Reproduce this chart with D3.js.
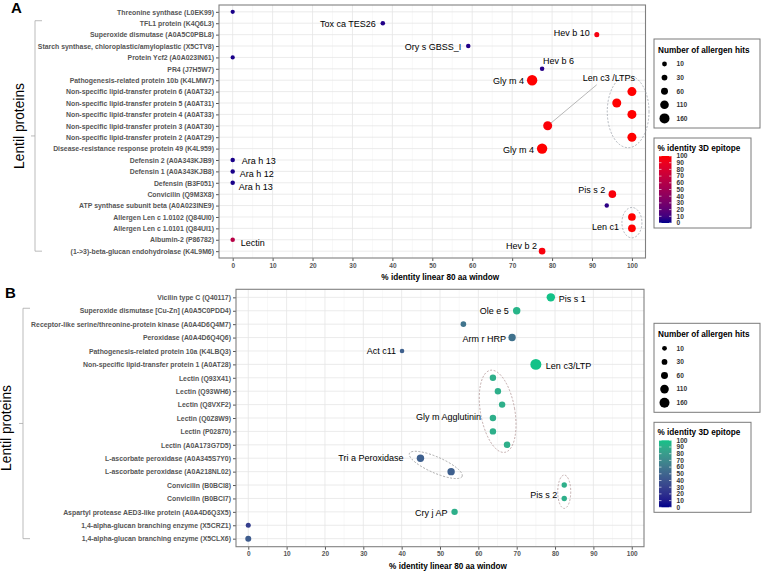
<!DOCTYPE html>
<html>
<head>
<meta charset="utf-8">
<script src="https://cdn.jsdelivr.net/npm/d3@7"></script>
<style>
  body { margin: 0; background: #fff; }
  text { font-family: "Liberation Sans", Arial, sans-serif; }
</style>
</head>
<body>
<svg id="chart" width="765" height="574"></svg>
<script>
// ---- panel A data (top row first) ----
const proteinsA = [
    "Threonine synthase (L0EK99)",
    "TFL1 protein (K4Q6L3)",
    "Superoxide dismutase (A0A5C0PBL8)",
    "Starch synthase, chloroplastic/amyloplastic (X5CTV8)",
    "Protein Ycf2 (A0A023IN61)",
    "PR4 (J7H5W7)",
    "Pathogenesis-related protein 10b (K4LMW7)",
    "Non-specific lipid-transfer protein 6 (A0AT32)",
    "Non-specific lipid-transfer protein 5 (A0AT31)",
    "Non-specific lipid-transfer protein 4 (A0AT33)",
    "Non-specific lipid-transfer protein 3 (A0AT30)",
    "Non-specific lipid-transfer protein 2 (A0AT29)",
    "Disease-resistance response protein 49 (K4L959)",
    "Defensin 2 (A0A343KJB9)",
    "Defensin 1 (A0A343KJB8)",
    "Defensin (B3F051)",
    "Convicilin (Q9M3X8)",
    "ATP synthase subunit beta (A0A023INE9)",
    "Allergen Len c 1.0102 (Q84UI0)",
    "Allergen Len c 1.0101 (Q84UI1)",
    "Albumin-2 (P86782)",
    "(1->3)-beta-glucan endohydrolase (K4L9M6)"
];
const identityA = [0, 37.6, 91.2, 59.0, 0, 77.5, 75.0, 100, 96.2, 100, 78.9, 100, 77.5, 0, 0, 0, 95.1, 93.7, 100, 100, 0, 77.5];
const epitopeA  = [2, 3, 96, 3, 2, 4, 100, 100, 100, 100, 98, 100, 100, 2, 2, 2, 97, 5, 100, 100, 62, 97];
const hitsA     = [0, 5, 14, 5, 0, 5, 175, 123, 123, 123, 123, 123, 175, 4, 4, 4, 78, 3, 80, 80, 5, 50];
const allergenA = ["", "Tox ca TES26", "Hev b 10", "Ory s GBSS_I", "", "Hev b 6", "Gly m 4", "", "", "",
    "Len c3 /LTPs", "", "Gly m 4", "Ara h 13", "Ara h 12", "Ara h 13", "Pis s 2", "", "", "Len c1", "Lectin", "Hev b 2"];

// ---- panel B data ----
const proteinsB = [
    "Vicilin type C (Q40117)",
    "Superoxide dismutase [Cu-Zn] (A0A5C0PDD4)",
    "Receptor-like serine/threonine-protein kinase (A0A4D6Q4M7)",
    "Peroxidase (A0A4D6Q4Q6)",
    "Pathogenesis-related protein 10a (K4LBQ3)",
    "Non-specific lipid-transfer protein 1 (A0AT28)",
    "Lectin (Q93X41)",
    "Lectin (Q93WH6)",
    "Lectin (Q8VXF2)",
    "Lectin (Q0Z8W9)",
    "Lectin (P02870)",
    "Lectin (A0A173G7D5)",
    "L-ascorbate peroxidase (A0A345S7Y0)",
    "L-ascorbate peroxidase (A0A218NL02)",
    "Convicilin (B0BCI8)",
    "Convicilin (B0BCI7)",
    "Aspartyl protease AED3-like protein (A0A4D6Q3X5)",
    "1,4-alpha-glucan branching enzyme (X5CRZ1)",
    "1,4-alpha-glucan branching enzyme (X5CLX6)"
];
const identityB = [78.9, 70.0, 56.1, 68.8, 40.1, 75.0, 63.8, 65.1, 66.2, 63.8, 63.8, 67.5, 44.9, 52.9, 82.4, 82.4, 53.8, 0, 0];
const epitopeB  = [100, 93, 58, 57, 48, 100, 90, 90, 90, 90, 90, 90, 47, 47, 90, 90, 90, 28, 45];
const hitsB     = [103, 72, 26, 72, 6, 200, 45, 45, 45, 45, 45, 50, 72, 72, 22, 22, 45, 14, 35];
const allergenB = ["Pis s 1", "Ole e 5", "", "Arm r HRP", "Act c11", "Len c3/LTP", "", "", "", "Gly m Agglutinin", "", "",
    "Tri a Peroxidase", "", "", "Pis s 2", "Cry j AP", "", ""];

const xTicks = [0, 10, 20, 30, 40, 50, 60, 70, 80, 90, 100];
const hitsLegend = [10, 30, 60, 110, 160];
const epitopeLegend = [0, 10, 20, 30, 40, 50, 60, 70, 80, 90, 100];

const svg = d3.select("#chart");

// point area grows linearly with hits
const area = d3.scaleLinear().domain([0, 160]).range([4.5, 25]);
const radius = v => Math.sqrt(Math.max(area(v), 3));

function drawPanel(p) {
    const g = svg.append("g");
    const x = d3.scaleLinear().domain(p.xDomain).range([p.left, p.right]);
    const y = d3.scalePoint().domain(p.proteins).range([p.top, p.bottom]).padding(0.6);
    const colour = d3.scaleLinear().domain([0, 100]).range([p.low, p.high]).interpolate(d3.interpolateLab);

    // grid
    const minor = d3.range(5, 100, 10);
    g.selectAll(".minor").data(minor).join("line")
        .attr("x1", d => x(d)).attr("x2", d => x(d))
        .attr("y1", p.top).attr("y2", p.bottom)
        .attr("stroke", "#f3f3f3").attr("stroke-width", 0.6);
    g.selectAll(".majorx").data(xTicks).join("line")
        .attr("x1", d => x(d)).attr("x2", d => x(d))
        .attr("y1", p.top).attr("y2", p.bottom)
        .attr("stroke", "#e6e6e6").attr("stroke-width", 0.8);
    g.selectAll(".majory").data(p.proteins).join("line")
        .attr("x1", p.left).attr("x2", p.right)
        .attr("y1", d => y(d)).attr("y2", d => y(d))
        .attr("stroke", "#e6e6e6").attr("stroke-width", 0.8);

    // axes
    const xa = g.append("g").attr("transform", `translate(0,${p.bottom})`)
        .call(d3.axisBottom(x).tickValues(xTicks).tickSize(3).tickPadding(2));
    const ya = g.append("g").attr("transform", `translate(${p.left},0)`)
        .call(d3.axisLeft(y).tickSize(3).tickPadding(2));
    [xa, ya].forEach(a => {
        a.select(".domain").remove();
        a.selectAll(".tick line").attr("stroke", "#555");
        a.selectAll(".tick text").attr("fill", "#555").attr("font-weight", "bold")
            .style("font-family", '"Liberation Sans", Arial, sans-serif');
    });
    xa.selectAll(".tick text").attr("font-size", 6.5);
    ya.selectAll(".tick text").attr("font-size", 6.9);

    g.append("rect").attr("x", p.left).attr("y", p.top)
        .attr("width", p.right - p.left).attr("height", p.bottom - p.top)
        .attr("fill", "none").attr("stroke", "#808080").attr("stroke-width", 1.1);

    g.append("text").attr("x", (p.left + p.right) / 2 + 8).attr("y", p.bottom + 22)
        .attr("text-anchor", "middle").attr("font-size", 8.2).attr("font-weight", "bold")
        .text("% identity linear 80 aa window");

    // rows as records
    const rows = p.proteins.map((name, i) => ({
        name, i, px: x(p.identity[i]), py: y(name),
        r: radius(p.hits[i]), c: colour(p.epitope[i]), lab: p.allergen[i]
    }));

    // dashed ellipses round grouped points
    p.ellipses.forEach(e => {
        const pts = e.rows.map(i => rows[i]);
        const cx = d3.mean(pts, d => d.px), cy = d3.mean(pts, d => d.py);
        const a = e.angle * Math.PI / 180;
        const u = pts.map(d => Math.abs((d.px - cx) * Math.cos(a) + (d.py - cy) * Math.sin(a)));
        const v = pts.map(d => Math.abs(-(d.px - cx) * Math.sin(a) + (d.py - cy) * Math.cos(a)));
        g.append("ellipse")
            .attr("transform", `translate(${cx},${cy}) rotate(${e.angle})`)
            .attr("rx", d3.max(u) + e.padX).attr("ry", d3.max(v) + e.padY)
            .attr("fill", "none").attr("stroke", e.stroke)
            .attr("stroke-width", 0.8).attr("stroke-dasharray", "2,1.6");
    });

    // leader lines
    p.leaders.forEach(l => {
        const d = rows[l.row];
        g.append("line").attr("x1", d.px).attr("y1", d.py)
            .attr("x2", d.px + l.dx).attr("y2", d.py + l.dy)
            .attr("stroke", "#9a9a9a").attr("stroke-width", 0.7);
    });

    g.selectAll("circle.pt").data(rows).join("circle")
        .attr("class", "pt")
        .attr("cx", d => d.px).attr("cy", d => d.py).attr("r", d => d.r)
        .attr("fill", d => d.c);

    // allergen labels
    rows.filter(d => d.lab).forEach(d => {
        const o = p.labelOffsets[d.i];
        g.append("text").attr("x", d.px + o[0]).attr("y", d.py + o[1])
            .attr("dy", "0.35em").attr("text-anchor", o[2])
            .attr("font-size", 9).attr("fill", "#000").text(d.lab);
    });

    // bracket and group title
    const bTop = y(p.proteins[1]) - 2.5, bBot = y(p.proteins[p.proteins.length - 1]);
    const bMid = (bTop + bBot) / 2;
    g.append("path")
        .attr("d", `M${p.bracketX + 7},${bTop}H${p.bracketX}V${bBot}H${p.bracketX + 7}M${p.bracketX},${bMid}H${p.bracketX - 4}`)
        .attr("fill", "none").attr("stroke", "#aaa").attr("stroke-width", 0.8);
    g.append("text")
        .attr("transform", `translate(${p.groupX},${bMid + p.groupDy}) rotate(-90)`)
        .attr("text-anchor", "middle").attr("font-size", 13.8).attr("fill", "#000")
        .text("Lentil proteins");

    g.append("text").attr("x", p.tagX).attr("y", p.tagY)
        .attr("font-size", 15).attr("font-weight", "bold").text(p.tag);

    // size legend
    const lx = 654, ly = p.top + 34;
    const sl = g.append("g").attr("transform", `translate(${lx},${ly})`);
    sl.append("rect").attr("width", 106).attr("height", 89)
        .attr("fill", "#fff").attr("stroke", "#7a7a7a").attr("stroke-width", 1);
    sl.append("text").attr("x", 4).attr("y", 13.5).attr("font-size", 8.2).attr("font-weight", "bold")
        .text("Number of allergen hits");
    hitsLegend.forEach((h, k) => {
        const yy = 25 + k * 13.6;
        sl.append("circle").attr("cx", 10.5).attr("cy", yy).attr("r", radius(h)).attr("fill", "#000");
        sl.append("text").attr("x", 22.5).attr("y", yy).attr("dy", "0.35em")
            .attr("font-size", 6.6).attr("font-weight", "bold").attr("fill", "#333").text(h);
    });

    // colour legend
    const cy0 = p.top + 133;
    const cl = g.append("g").attr("transform", `translate(${lx},${cy0})`);
    cl.append("rect").attr("width", 97).attr("height", 90)
        .attr("fill", "#fff").attr("stroke", "#7a7a7a").attr("stroke-width", 1);
    cl.append("text").attr("x", 3.5).attr("y", 12.5).attr("font-size", 8.2).attr("font-weight", "bold")
        .text("% identity 3D epitope");
    const gid = "grad" + p.tag;
    const grad = svg.append("defs").append("linearGradient").attr("id", gid)
        .attr("x1", 0).attr("y1", 1).attr("x2", 0).attr("y2", 0);
    epitopeLegend.forEach(v => grad.append("stop").attr("offset", v / 100).attr("stop-color", colour(v)));
    const barY = d3.scaleLinear().domain([0, 100]).range([85, 18]);
    cl.append("rect").attr("x", 5).attr("y", barY(100)).attr("width", 12.5).attr("height", barY(0) - barY(100))
        .attr("fill", `url(#${gid})`);
    epitopeLegend.forEach(v => {
        cl.append("line").attr("x1", 5).attr("x2", 7.5).attr("y1", barY(v)).attr("y2", barY(v))
            .attr("stroke", "#fff").attr("stroke-width", 0.6);
        cl.append("line").attr("x1", 15).attr("x2", 17.5).attr("y1", barY(v)).attr("y2", barY(v))
            .attr("stroke", "#fff").attr("stroke-width", 0.6);
        cl.append("text").attr("x", 22.5).attr("y", barY(v)).attr("dy", "0.35em")
            .attr("font-size", 6.6).attr("font-weight", "bold").attr("fill", "#333").text(v);
    });
}

drawPanel({
    tag: "A", tagX: 11, tagY: 13,
    proteins: proteinsA, identity: identityA, epitope: epitopeA, hits: hitsA, allergen: allergenA,
    xDomain: [-3.43, 103.4], left: 219, right: 645.5, top: 5, bottom: 258,
    low: "#00008B", high: "#FF0000",
    bracketX: 35, groupX: 24, groupDy: -10,
    labelOffsets: {
        1: [-7, 1, "end"], 2: [-7, -2, "end"], 3: [-7, 1, "end"], 5: [1, -8, "start"],
        6: [-8, 1, "end"], 10: [35, -48, "start"], 12: [-8, 1, "end"], 13: [9, 1, "start"],
        14: [7, 2, "start"], 15: [6, 4, "start"], 16: [-7, -4, "end"], 19: [-13, -2, "end"],
        20: [8, 3, "start"], 21: [-5, -5, "end"]
    },
    leaders: [{ row: 10, dx: 49, dy: -41 }],
    ellipses: [
        { rows: [7, 8, 9, 11], angle: 0, padX: 9.5, padY: 10.5, stroke: "#a0a4ad" },
        { rows: [18, 19], angle: 0, padX: 10, padY: 9.5, stroke: "#a0a4ad" }
    ]
});

drawPanel({
    tag: "B", tagX: 5, tagY: 298,
    proteins: proteinsB, identity: identityB, epitope: epitopeB, hits: hitsB, allergen: allergenB,
    xDomain: [-3.2, 103.2], left: 236, right: 644, top: 289.3, bottom: 546.7,
    low: "#00008B", high: "#14C288",
    bracketX: 23, groupX: 11, groupDy: 4.5,
    labelOffsets: {
        0: [8, 2, "start"], 1: [-8, 0, "end"], 3: [-6, 1, "end"], 4: [-6, 0, "end"],
        5: [10, 1, "start"], 9: [-12, -1, "end"], 12: [-17, -0.5, "end"], 15: [-7, -4, "end"],
        16: [-7, 1, "end"]
    },
    leaders: [],
    ellipses: [
        { rows: [6, 7, 8, 9, 10, 11], angle: -10, padX: 9, padY: 7, stroke: "#b59a9a" },
        { rows: [12, 13], angle: 23.6, padX: 12, padY: 8, stroke: "#a0a0a0" },
        { rows: [14, 15], angle: 0, padX: 6.5, padY: 10, stroke: "#b59a9a" }
    ]
});
</script>
</body>
</html>
